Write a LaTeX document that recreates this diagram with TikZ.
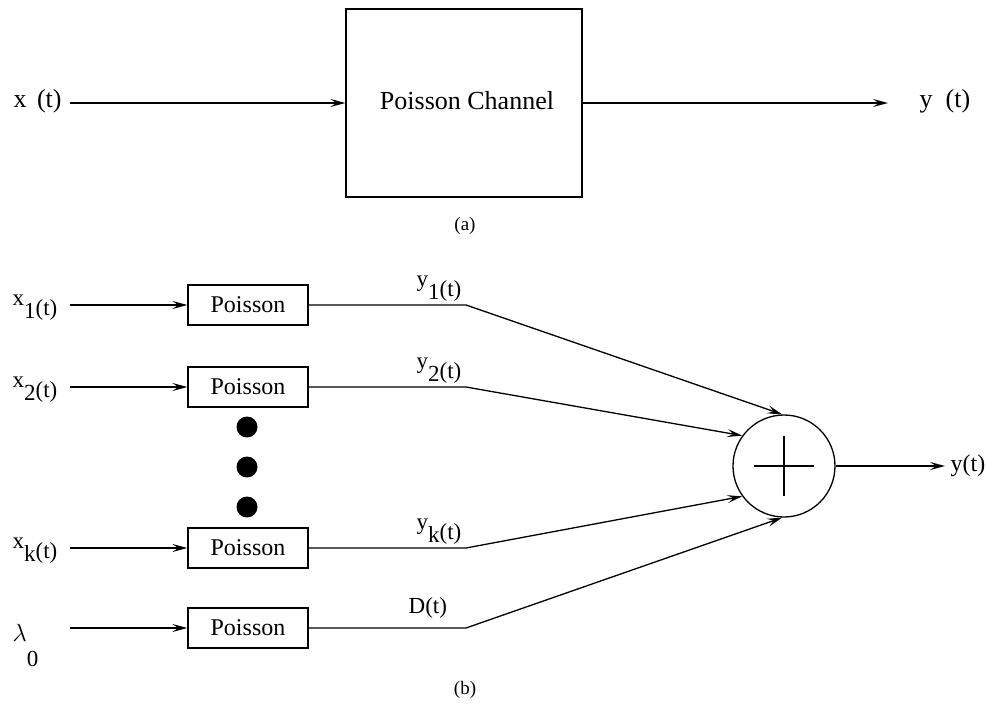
\documentclass[tikz,border=0pt]{standalone}
\usepackage{fontspec}
\setmainfont{Liberation Serif}
\usetikzlibrary{arrows.meta}

% subscripted signal label: letter, lowered index, then (t)
\newcommand{\siglab}[2]{#1\raisebox{-13pt}{#2}\raisebox{-10pt}{(t)}}

\begin{document}
\begin{tikzpicture}[x=1pt,y=-1pt,line width=1.3pt,
  arr/.style={-{Stealth[length=15pt,width=8pt,inset=6pt]}},
  txt/.style={font=\fontsize{24}{26}\selectfont},
  bigtxt/.style={font=\fontsize{26}{28}\selectfont},
  labtxt/.style={font=\fontsize{23}{25}\selectfont},
  pbox/.style={draw,txt,minimum width=120pt,minimum height=40pt,inner sep=0pt},
  lab/.style={labtxt,inner sep=0pt,anchor=base west},
  captext/.style={font=\fontsize{19}{21}\selectfont,inner sep=0pt},
  dot/.style={fill=black}]
\useasboundingbox (0,0) rectangle (986,709);

% (a) single channel
\node[draw,minimum width=236pt,minimum height=188pt] (ch) at (464,103) {};
\node[bigtxt,inner sep=0pt] (chtext) at (467,101) {Poisson Channel};
\node[bigtxt,inner sep=0pt,anchor=west] (xin) at (13,101) {x\hspace{0.4em}(t)};
\node[bigtxt,inner sep=0pt,anchor=west] (yout) at (919,101) {y\hspace{0.5em}(t)};
\draw[arr] ([xshift=8pt]xin.east |- ch.west) -- (ch.west);
\draw[arr] (ch.east) -- ([xshift=-31pt]yout.west |- ch.east);
\node[captext] (capa) at (465,226) {(a)};

% (b) superposition of Poisson channels
\node[pbox] (p1) at (248,305) {Poisson};
\node[pbox] (p2) at (248,387) {Poisson};
\node[pbox] (pk) at (248,548) {Poisson};
\node[pbox] (p0) at (248,628) {Poisson};

\coordinate (i1) at (70,305);
\coordinate (i2) at (70,387);
\coordinate (ik) at (70,548);
\coordinate (i0) at (70,628);
\draw[arr] (i1) -- (p1.west);
\draw[arr] (i2) -- (p2.west);
\draw[arr] (ik) -- (pk.west);
\draw[arr] (i0) -- (p0.west);

\node[lab] (lx1) at (12,305) {\siglab{x}{1}};
\node[lab] (lx2) at (12,387) {\siglab{x}{2}};
\node[lab] (lxk) at (12,548) {\siglab{x}{k}};
\node[lab] (ll0) at (12,641) {$\lambda$\raisebox{-25pt}{0}};

\fill[dot] (247,427) circle (10.5pt);
\fill[dot] (247,467) circle (10.5pt);
\fill[dot] (247,507) circle (10.5pt);

\node[draw,circle,minimum size=102pt,inner sep=0pt] (s) at (784,466) {};
\draw ([xshift=-30pt]s.center) -- ([xshift=30pt]s.center);
\draw ([yshift=-30pt]s.center) -- ([yshift=30pt]s.center);

\coordinate (b1) at (466,305);
\coordinate (b2) at (466,387);
\coordinate (bk) at (466,548);
\coordinate (b0) at (466,628);
\draw[arr] (p1.east) -- (b1) -- (s.92);
\draw[arr] (p2.east) -- (b2) -- (s.144);
\draw[arr] (pk.east) -- (bk) -- (s.216);
\draw[arr] (p0.east) -- (b0) -- (s.268);

\node[lab] (ly1) at (416,286) {\siglab{y}{1}};
\node[lab] (ly2) at (416,368) {\siglab{y}{2}};
\node[lab] (lyk) at (416,529) {\siglab{y}{k}};
\node[lab] (ld) at (408,613) {D(t)};

\node[txt,inner sep=0pt,anchor=west] (ys) at (950,466) {y(t)};
\draw[arr] (s.east) -- ([xshift=-5pt]ys.west);

\node[captext] (capb) at (465,690) {(b)};
\end{tikzpicture}
\end{document}
